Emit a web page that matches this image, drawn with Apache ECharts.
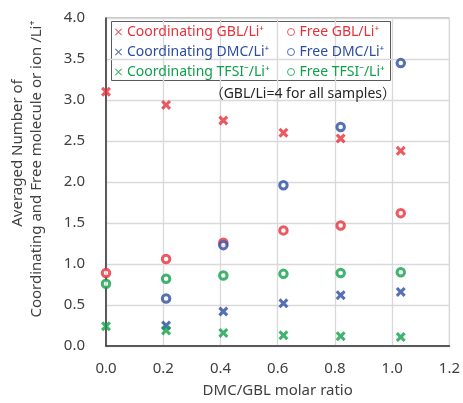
<!DOCTYPE html>
<html>
<head>
<meta charset="utf-8">
<script src="https://cdn.jsdelivr.net/npm/echarts@6/dist/echarts.min.js"></script>
<style>
  html, body { margin: 0; padding: 0; background: #fff; }
  #chart { width: 463px; height: 403px; }
</style>
</head>
<body>
<div id="chart"></div>
<script>
// DMC/GBL molar ratio of each sample
const ratios = [0.0, 0.21, 0.41, 0.62, 0.82, 1.03];

// Averaged numbers per Li+ (coordinating vs. free)
const coordGBL  = [3.10, 2.94, 2.75, 2.60, 2.53, 2.38];
const freeGBL   = [0.89, 1.06, 1.26, 1.41, 1.47, 1.62];
const coordDMC  = [null, 0.25, 0.42, 0.52, 0.62, 0.66];
const freeDMC   = [null, 0.58, 1.23, 1.96, 2.67, 3.45];
const coordTFSI = [0.24, 0.19, 0.16, 0.13, 0.12, 0.11];
const freeTFSI  = [0.76, 0.82, 0.86, 0.88, 0.89, 0.90];

const seriesNames = [
  'Coordinating GBL/Li\u207A', 'Free GBL/Li\u207A',
  'Coordinating DMC/Li\u207A', 'Free DMC/Li\u207A',
  'Coordinating TFSI\u207B/Li\u207A', 'Free TFSI\u207B/Li\u207A'
];
const yAxisTitle = ['Averaged Number of', 'Coordinating and Free molecule or ion /Li\u207A'];
const xAxisTitle = 'DMC/GBL molar ratio';
const note = '\uFF08GBL/Li=4 for all samples\uFF09';

const RED = '#e8303a', BLUE = '#2a4ca3', GREEN = '#10a04a';
const FONT = '"Noto Sans", "Noto Sans CJK JP", sans-serif';

const boldCross = 'path://M0,2.2 L2.2,0 L5,2.8 L7.8,0 L10,2.2 L7.2,5 L10,7.8 L7.8,10 L5,7.2 L2.2,10 L0,7.8 L2.8,5 Z';
const thinCross = 'path://M0,1 L1,0 L5,4 L9,0 L10,1 L6,5 L10,9 L9,10 L5,6 L1,10 L0,9 L4,5 Z';

function pairs(vals) {
  const out = [];
  vals.forEach((v, i) => { if (v !== null) out.push([ratios[i], v]); });
  return out;
}

function crossSeries(name, vals, color) {
  return {
    name, type: 'scatter', clip: false, data: pairs(vals),
    symbol: boldCross, symbolSize: 10,
    itemStyle: { color: color }
  };
}
function ringSeries(name, vals, color) {
  return {
    name, type: 'scatter', clip: false, data: pairs(vals),
    symbol: 'circle', symbolSize: 7.5,
    itemStyle: { color: '#fff', borderColor: color, borderWidth: 3 }
  };
}

function legendItem(name, color, ring) {
  return ring
    ? { name, icon: 'circle', itemStyle: { color: '#fff', borderColor: color, borderWidth: 1 }, textStyle: { color } }
    : { name, icon: thinCross, itemStyle: { color, borderWidth: 0 }, textStyle: { color } };
}

const legendCommon = {
  orient: 'vertical', top: 25, itemWidth: 7, itemHeight: 7, itemGap: 6,
  selectedMode: false, padding: 0,
  textStyle: { fontFamily: FONT, fontSize: 14, lineHeight: 14 }
};

const chart = echarts.init(document.getElementById('chart'), null, { renderer: 'canvas' });
chart.setOption({
  animation: false,
  backgroundColor: '#fff',
  grid: { left: 106, right: 10, top: 18, bottom: 53, show: true, borderColor: '#8a8a8a', borderWidth: 1, backgroundColor: 'transparent' },
  xAxis: {
    type: 'value', min: 0, max: 1.2, interval: 0.2,
    axisLine: { show: true, onZero: false, lineStyle: { color: '#333', width: 1.5 } },
    axisTick: { show: false },
    splitLine: { show: true, lineStyle: { color: '#d9d9d9', width: 1.3 } },
    axisLabel: { color: '#404040', fontFamily: FONT, fontSize: 15, margin: 15, formatter: v => v.toFixed(1) },
    name: xAxisTitle, nameLocation: 'middle', nameGap: 37,
    nameTextStyle: { color: '#404040', fontFamily: FONT, fontSize: 15 }
  },
  yAxis: {
    type: 'value', min: 0, max: 4, interval: 0.5,
    axisLine: { show: true, onZero: false, lineStyle: { color: '#333', width: 1.5 } },
    axisTick: { show: false },
    splitLine: { show: true, lineStyle: { color: '#d9d9d9', width: 1.3 } },
    axisLabel: { color: '#404040', fontFamily: FONT, fontSize: 15, margin: 21, formatter: v => v.toFixed(1) }
  },
  legend: [
    Object.assign({}, legendCommon, {
      left: 115,
      data: [legendItem(seriesNames[0], RED, false), legendItem(seriesNames[2], BLUE, false), legendItem(seriesNames[4], GREEN, false)]
    }),
    Object.assign({}, legendCommon, {
      left: 287,
      data: [legendItem(seriesNames[1], RED, true), legendItem(seriesNames[3], BLUE, true), legendItem(seriesNames[5], GREEN, true)]
    })
  ],
  graphic: [
    { type: 'rect', left: 111, top: 21, shape: { width: 279, height: 59 }, style: { fill: '#fff', stroke: '#595959', lineWidth: 1 }, z: 0, silent: true },
    { type: 'text', right: 463 - 396, top: 87, style: { text: note, fill: '#262626', font: '14px ' + FONT }, z: 10 },
    { type: 'text', x: 18, y: 153, rotation: Math.PI / 2, style: { text: yAxisTitle[0], fill: '#404040', font: '15px ' + FONT, align: 'center', verticalAlign: 'middle' } },
    { type: 'text', x: 37, y: 169, rotation: Math.PI / 2, style: { text: yAxisTitle[1], fill: '#404040', font: '15px ' + FONT, align: 'center', verticalAlign: 'middle' } }
  ],
  series: [
    crossSeries(seriesNames[0], coordGBL, RED),
    ringSeries(seriesNames[1], freeGBL, RED),
    crossSeries(seriesNames[2], coordDMC, BLUE),
    ringSeries(seriesNames[3], freeDMC, BLUE),
    crossSeries(seriesNames[4], coordTFSI, GREEN),
    ringSeries(seriesNames[5], freeTFSI, GREEN)
  ]
});
</script>
</body>
</html>
